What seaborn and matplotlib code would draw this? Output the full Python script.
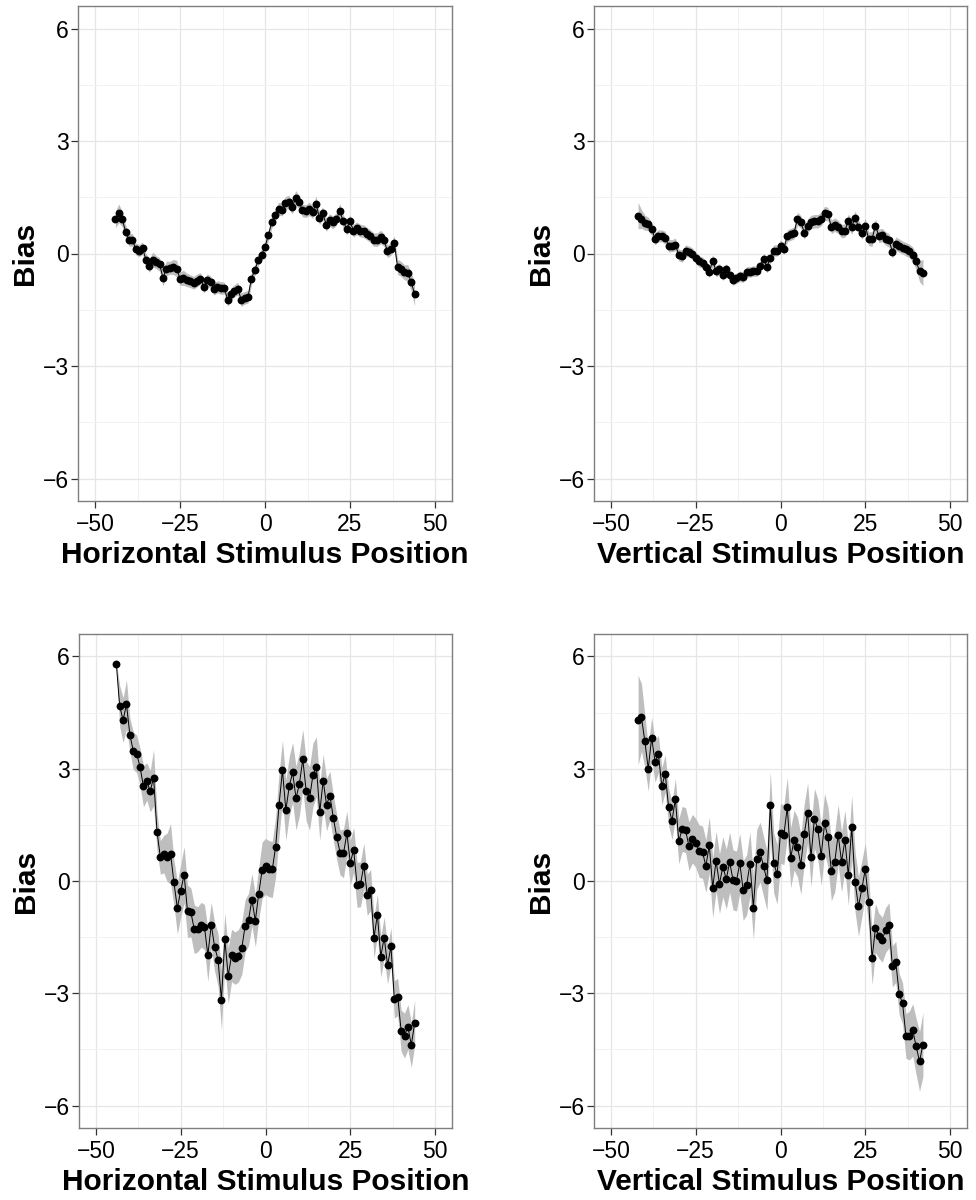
import numpy as np
import pandas as pd
import matplotlib
matplotlib.use("Agg")
import matplotlib.pyplot as plt
import seaborn as sns

# ---------------- data ----------------
tl_x = list(range(-44, 45))
tl_y = [0.91, 1.07, 0.92, 0.58, 0.37, 0.36, 0.12, 0.08, 0.14, -0.18,
        -0.32, -0.16, -0.23, -0.29, -0.65, -0.40, -0.38, -0.36, -0.40, -0.67,
        -0.65, -0.70, -0.74, -0.78, -0.72, -0.67, -0.88, -0.71, -0.76, -0.94,
        -0.89, -0.92, -0.92, -1.23, -1.09, -0.99, -0.94, -1.23, -1.18, -1.16,
        -0.67, -0.44, -0.18, -0.03, 0.18, 0.49, 0.84, 1.02, 1.20, 1.17,
        1.35, 1.37, 1.23, 1.48, 1.38, 1.15, 1.13, 1.19, 1.11, 1.33,
        0.95, 1.07, 0.77, 0.89, 0.83, 0.92, 1.13, 0.86, 0.66, 0.86,
        0.61, 0.67, 0.61, 0.59, 0.53, 0.46, 0.37, 0.37, 0.44, 0.36,
        0.06, 0.12, 0.29, -0.36, -0.41, -0.50, -0.52, -0.76, -1.08]
tl_ci = [0.22, 0.25, 0.20, 0.18, 0.17, 0.17, 0.16, 0.16, 0.17, 0.18,
         0.18, 0.20, 0.17, 0.18, 0.22, 0.20, 0.17, 0.20, 0.22, 0.18,
         0.20, 0.18, 0.17, 0.17, 0.17, 0.16, 0.18, 0.17, 0.16, 0.17,
         0.16, 0.17, 0.16, 0.18, 0.17, 0.16, 0.17, 0.18, 0.17, 0.17,
         0.16, 0.15, 0.15, 0.15, 0.15, 0.15, 0.16, 0.16, 0.17, 0.17,
         0.17, 0.18, 0.17, 0.20, 0.18, 0.17, 0.17, 0.18, 0.17, 0.20,
         0.18, 0.17, 0.18, 0.17, 0.17, 0.17, 0.20, 0.18, 0.17, 0.17,
         0.17, 0.17, 0.17, 0.17, 0.17, 0.17, 0.18, 0.18, 0.18, 0.17,
         0.17, 0.17, 0.18, 0.20, 0.20, 0.20, 0.22, 0.25, 0.32]

tr_x = list(range(-42, 43))
tr_y = [1.01, 0.92, 0.82, 0.79, 0.65, 0.40, 0.47, 0.47, 0.42, 0.21,
        0.21, 0.24, -0.04, -0.07, 0.08, 0.05, 0.00, -0.11, -0.21, -0.24,
        -0.35, -0.49, -0.19, -0.47, -0.42, -0.58, -0.42, -0.58, -0.71, -0.66,
        -0.61, -0.63, -0.49, -0.49, -0.47, -0.47, -0.34, -0.14, -0.37, -0.11,
        0.08, 0.08, 0.21, 0.13, 0.47, 0.51, 0.55, 0.93, 0.84, 0.56,
        0.74, 0.84, 0.86, 0.86, 0.92, 1.07, 1.05, 0.71, 0.77, 0.71,
        0.60, 0.61, 0.87, 0.71, 0.95, 0.71, 0.56, 0.74, 0.39, 0.39,
        0.74, 0.47, 0.49, 0.40, 0.35, 0.05, 0.26, 0.21, 0.16, 0.11,
        0.07, -0.03, -0.21, -0.47, -0.51]
tr_ci = [0.35, 0.25, 0.20, 0.18, 0.17, 0.17, 0.16, 0.16, 0.17, 0.17,
         0.16, 0.17, 0.16, 0.16, 0.15, 0.15, 0.15, 0.15, 0.15, 0.15,
         0.15, 0.15, 0.16, 0.15, 0.15, 0.14, 0.15, 0.14, 0.14, 0.14,
         0.14, 0.14, 0.14, 0.14, 0.14, 0.14, 0.14, 0.15, 0.15, 0.15,
         0.15, 0.15, 0.15, 0.16, 0.16, 0.16, 0.16, 0.17, 0.17, 0.18,
         0.18, 0.18, 0.18, 0.18, 0.18, 0.19, 0.18, 0.18, 0.18, 0.18,
         0.18, 0.18, 0.18, 0.20, 0.18, 0.18, 0.18, 0.20, 0.18, 0.20,
         0.18, 0.18, 0.18, 0.18, 0.18, 0.18, 0.18, 0.18, 0.17, 0.18,
         0.18, 0.20, 0.22, 0.28, 0.35]

bl_x = list(range(-44, 45))
bl_y = [5.81, 4.67, 4.30, 4.72, 3.91, 3.48, 3.40, 3.05, 2.53, 2.66,
        2.40, 2.76, 1.32, 0.63, 0.72, 0.63, 0.73, -0.04, -0.72, -0.26,
        0.17, -0.81, -0.84, -1.29, -1.29, -1.17, -1.23, -1.98, -1.17, -1.76,
        -2.10, -3.18, -1.56, -2.53, -1.99, -2.06, -2.00, -1.80, -1.19, -1.03,
        -0.50, -1.06, -0.34, 0.29, 0.39, 0.33, 0.31, 0.92, 2.04, 2.96,
        1.89, 2.53, 2.90, 2.21, 2.60, 3.25, 2.40, 2.21, 2.84, 3.05,
        1.84, 2.68, 2.04, 2.28, 1.69, 1.18, 0.76, 0.74, 1.27, 0.49,
        0.83, -0.10, -0.09, 0.41, -0.37, -0.24, -1.51, -0.90, -2.02, -1.51,
        -2.25, -1.75, -3.16, -3.10, -4.00, -4.13, -3.90, -4.38, -3.79]
bl_ci = [0.05, 0.55, 0.60, 0.65, 0.45, 0.50, 0.50, 0.50, 0.55, 0.50,
         0.55, 0.75, 0.50, 0.45, 0.50, 0.65, 0.80, 0.60, 0.70, 0.70,
         0.75, 0.70, 0.65, 0.65, 0.60, 0.60, 0.60, 0.70, 0.60, 0.65,
         0.70, 0.80, 0.70, 0.75, 0.70, 0.70, 0.70, 0.70, 0.70, 0.70,
         0.70, 0.70, 0.70, 0.75, 0.75, 0.75, 0.75, 0.80, 0.85, 0.80,
         0.80, 0.80, 0.80, 0.85, 0.85, 0.80, 0.80, 0.85, 0.85, 0.80,
         0.75, 0.70, 0.70, 0.65, 0.60, 0.60, 0.60, 0.65, 0.60, 0.60,
         0.60, 0.60, 0.60, 0.60, 0.55, 0.55, 0.55, 0.55, 0.55, 0.55,
         0.50, 0.50, 0.50, 0.50, 0.55, 0.60, 0.60, 0.60, 0.60]

br_x = list(range(-42, 43))
br_y = [4.30, 4.37, 3.73, 3.00, 3.83, 3.19, 3.39, 2.53, 2.87, 1.98,
        1.61, 2.19, 1.06, 1.39, 1.36, 0.93, 1.13, 1.02, 0.80, 0.77,
        0.40, 0.96, -0.18, 0.53, -0.07, 0.38, 0.05, 0.50, 0.03, 0.00,
        0.47, -0.25, -0.11, 0.46, -0.71, 0.58, 0.77, 0.39, 0.02, 2.02,
        0.48, 0.18, 1.27, 1.24, 1.97, 0.62, 1.09, 0.91, 0.44, 1.26,
        1.82, 0.64, 1.67, 1.39, 0.68, 1.54, 1.17, 0.27, 0.51, 1.24,
        0.51, 1.09, 0.15, 1.44, -0.03, -0.68, -0.20, 0.31, -0.55, -2.07,
        -1.26, -1.46, -1.57, -1.31, -1.18, -2.28, -2.16, -3.02, -3.27, -4.14,
        -4.13, -3.98, -4.42, -4.82, -4.37]
br_ci = [1.20, 0.90, 0.70, 0.60, 0.55, 0.55, 0.50, 0.50, 0.50, 0.50,
         0.50, 0.55, 0.60, 0.60, 0.60, 0.65, 0.65, 0.65, 0.70, 0.70,
         0.70, 0.75, 0.80, 0.80, 0.80, 0.80, 0.80, 0.80, 0.80, 0.80,
         0.80, 0.80, 0.80, 0.85, 0.85, 0.80, 0.80, 0.80, 0.80, 0.90,
         0.80, 0.80, 0.80, 0.80, 0.80, 0.80, 0.80, 0.80, 0.80, 0.80,
         0.80, 0.80, 0.80, 0.80, 0.80, 0.80, 0.80, 0.80, 0.80, 0.80,
         0.80, 0.80, 0.80, 0.85, 0.80, 0.80, 0.75, 0.70, 0.70, 0.70,
         0.65, 0.60, 0.60, 0.60, 0.60, 0.55, 0.55, 0.55, 0.55, 0.60,
         0.65, 0.70, 0.75, 0.80, 0.85]

x_ticks = [-50, -25, 0, 25, 50]
y_ticks = [-6, -3, 0, 3, 6]
x_label_h = "Horizontal Stimulus Position"
x_label_v = "Vertical Stimulus Position"
y_label = "Bias"

# ---------------- style ----------------
sns.set_theme(style="white")
plt.rcParams['font.family'] = ['Liberation Sans', 'DejaVu Sans']

W, H = 976, 1200
fig = plt.figure(figsize=(W / 100, H / 100), dpi=100)

panels = [
    (tl_x, tl_y, tl_ci, x_label_h, (78, 6, 452, 501)),
    (tr_x, tr_y, tr_ci, x_label_v, (594, 6, 967, 501)),
    (bl_x, bl_y, bl_ci, x_label_h, (79, 634, 452, 1128)),
    (br_x, br_y, br_ci, x_label_v, (594, 634, 967, 1128)),
]

grid_major = "#e6e6e6"
grid_minor = "#f2f2f2"

for xs, ys, cis, xlabel, (l, t, r, b) in panels:
    ax = fig.add_axes([l / W, 1 - b / H, (r - l) / W, (b - t) / H])
    df = pd.DataFrame({"x": xs, "y": ys, "ci": cis})
    df["lo"] = df["y"] - df["ci"]
    df["hi"] = df["y"] + df["ci"]
    ax.fill_between(df["x"], df["lo"], df["hi"], color="#bebebe", lw=0, zorder=2)
    sns.lineplot(data=df, x="x", y="y", ax=ax, color="black", lw=0.7, zorder=3)
    sns.scatterplot(data=df, x="x", y="y", ax=ax, color="black", s=32,
                    edgecolor="black", linewidth=0, zorder=4)
    ax.set_xlim(-55, 55)
    ax.set_ylim(-6.6, 6.6)
    ax.set_xticks(x_ticks)
    ax.set_yticks(y_ticks)
    ax.set_xticks([-37.5, -12.5, 12.5, 37.5], minor=True)
    ax.set_yticks([-4.5, -1.5, 1.5, 4.5], minor=True)
    ax.grid(True, which="major", color=grid_major, lw=0.9, zorder=0)
    ax.grid(True, which="minor", color=grid_minor, lw=0.7, zorder=0)
    ax.set_axisbelow(True)
    ax.tick_params(axis="both", which="major", length=5, width=0.9,
                   color="#333333", labelsize=16.5, labelcolor="black",
                   left=True, bottom=True)
    ax.tick_params(axis="x", which="major", pad=3.5)
    ax.tick_params(axis="y", which="major", pad=1.5)
    ax.tick_params(axis="both", which="minor", length=0)
    for s in ax.spines.values():
        s.set_color("#7f7f7f")
        s.set_linewidth(1.0)
    ax.set_xlabel(xlabel, fontsize=21.5, fontweight="bold", labelpad=4,
                  color="black")
    ax.set_ylabel(y_label, fontsize=21.5, fontweight="bold", labelpad=3,
                  color="black")

fig.savefig("out.png", dpi=100, facecolor="white")
